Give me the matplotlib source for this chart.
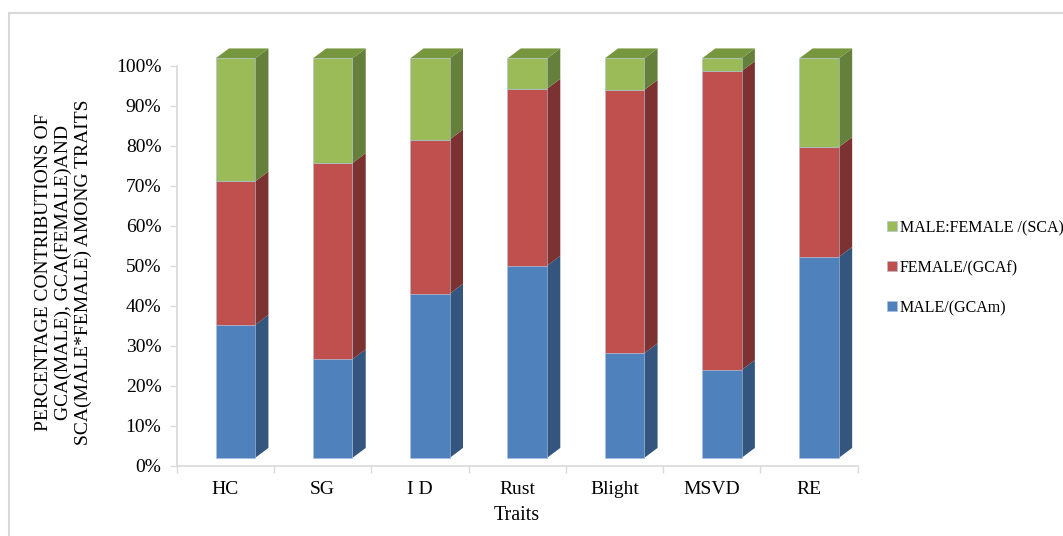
import matplotlib
matplotlib.use("Agg")
import matplotlib.pyplot as plt
from matplotlib.patches import Polygon, Rectangle
import numpy as np

traits = ["HC", "SG", "I D", "Rust", "Blight", "MSVD", "RE"]
male_gcam = [33.3, 24.7, 41.1, 48.1, 26.2, 22.0, 50.3]
female_gcaf = [35.9, 49.1, 38.6, 44.3, 65.9, 74.8, 27.5]
male_female_sca = [30.8, 26.2, 20.3, 7.6, 7.9, 3.2, 22.2]
series_names = ["MALE/(GCAm)", "FEMALE/(GCAf)", "MALE:FEMALE /(SCA)"]
yticks = [0, 10, 20, 30, 40, 50, 60, 70, 80, 90, 100]

front_colors = ["#4F81BD", "#C0504D", "#9BBB59"]
side_colors = ["#34557E", "#7C3230", "#65803A"]
top_colors = ["#41699A", "#9E3F3C", "#77973F"]

plt.rcParams['font.family'] = ['Liberation Serif', 'DejaVu Serif']

fig = plt.figure(figsize=(10.63, 5.36), dpi=100)
ax = fig.add_axes([176.7 / 1063, 1 - 465.5 / 536, (857.7 - 176.7) / 1063, (465.5 - 66) / 536])

# outer chart border (only left/top visible in frame)
fig.patches.append(Rectangle((8.5 / 1063, -0.1), 1.2, (536 - 12.5) / 536 + 0.1,
                             transform=fig.transFigure, fill=False,
                             edgecolor="#D9D9D9", linewidth=1.5))

x = np.arange(len(traits))
shift = 0.103      # perspective shift of the front face
width = 0.406
dx = 0.137         # depth in x (data units)
dy = 2.5           # depth in y (data units)
yoff = 1.9         # front face raised relative to axis

series = [male_gcam, female_gcaf, male_female_sca]
bottoms = np.zeros(len(traits))
for si, vals in enumerate(series):
    vals = np.array(vals, dtype=float)
    ax.bar(x + shift, vals, width=width, bottom=bottoms + yoff,
           color=front_colors[si], edgecolor="#A9C0DD", linewidth=0.4,
           clip_on=False, zorder=3, label=series_names[si])
    for i in range(len(traits)):
        x1 = x[i] + shift + width / 2
        x0 = x[i] + shift - width / 2
        b = bottoms[i] + yoff
        t = bottoms[i] + vals[i] + yoff
        side = Polygon([(x1, b), (x1 + dx, b + dy), (x1 + dx, t + dy), (x1, t)],
                       closed=True, facecolor=side_colors[si], edgecolor="none",
                       clip_on=False, zorder=2)
        ax.add_patch(side)
        if si == len(series) - 1:
            top = Polygon([(x0, t), (x0 + dx, t + dy), (x1 + dx, t + dy), (x1, t)],
                          closed=True, facecolor=top_colors[si], edgecolor="none",
                          clip_on=False, zorder=2)
            ax.add_patch(top)
    bottoms = bottoms + vals

ax.set_xlim(-0.5, len(traits) - 0.5)
ax.set_ylim(0, 100)
ax.set_yticks(yticks)
ax.set_yticklabels([f"{v}%" for v in yticks], fontsize=14)
ax.set_xticks(x)
ax.set_xticklabels(traits, fontsize=14)
ax.set_xticks(np.arange(-0.5, len(traits)), minor=True)
ax.tick_params(axis="x", which="major", length=0, pad=11)
ax.tick_params(axis="x", which="minor", length=5, color="#D9D9D9", width=1)
ax.tick_params(axis="y", length=5, color="#D9D9D9", width=1, pad=6)

for s in ["top", "right"]:
    ax.spines[s].set_visible(False)
for s in ["left", "bottom"]:
    ax.spines[s].set_color("#D9D9D9")
    ax.spines[s].set_linewidth(1.2)

ax.set_xlabel("Traits", fontsize=14.5, labelpad=6)
ax.set_ylabel("PERCENTAGE CONTRIBUTIONS OF\nGCA(MALE), GCA(FEMALE)AND\nSCA(MALE*FEMALE) AMONG TRAITS",
              fontsize=14, linespacing=1.2)
ax.yaxis.set_label_coords(-0.124, 0.484)

handles, labels = ax.get_legend_handles_labels()
leg = fig.legend(handles[::-1], labels[::-1], loc="center left",
                 bbox_to_anchor=(887 / 1063, 1 - 268 / 536), frameon=False,
                 fontsize=11.5, handlelength=0.6, handleheight=0.6,
                 handletextpad=0.2, labelspacing=1.5, borderaxespad=0,
                 borderpad=0)

fig.savefig("out.png", dpi=100)
